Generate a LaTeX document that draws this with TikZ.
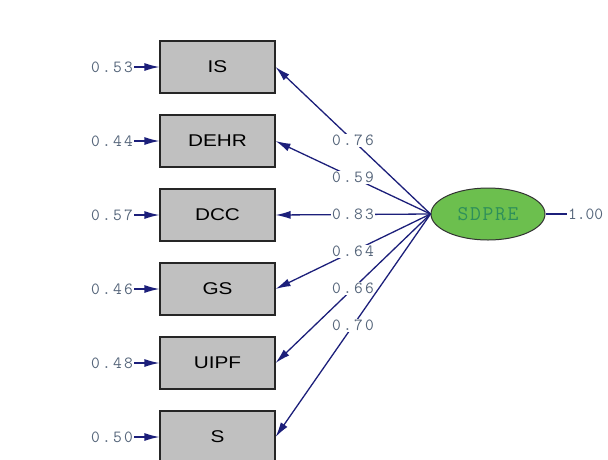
\documentclass[tikz,border=0pt]{standalone}
\usepackage{fontspec}
\setmainfont{Liberation Sans}
\newfontfamily\boxfont[FakeStretch=1.22]{Liberation Sans}
\newfontfamily\numfont[LetterSpace=13]{Latin Modern Mono}
\newfontfamily\latfont[LetterSpace=8]{Latin Modern Mono}
\newfontfamily\varfont{Latin Modern Mono}
\usetikzlibrary{arrows.meta,shapes.geometric}
\definecolor{navy}{HTML}{1C1F7A}
\definecolor{boxgray}{HTML}{C0C0C0}
\definecolor{elgreen}{HTML}{6CBF4E}
\definecolor{eltext}{HTML}{2E8F5A}
\definecolor{numgray}{HTML}{55657A}
\tikzset{
  obs/.style={draw=black!85, line width=1.1pt, fill=boxgray, minimum width=115pt, minimum height=52pt, inner sep=0pt, font=\boxfont\fontsize{17}{17}\selectfont},
  lat/.style={ellipse, draw=black!80, line width=1pt, fill=elgreen, minimum width=114pt, minimum height=52pt, inner sep=0pt, text=eltext, font=\latfont\fontsize{21}{21}\selectfont},
  err/.style={inner sep=1pt, text=numgray, font=\numfont\fontsize{17}{17}\selectfont},
  varlab/.style={inner sep=1pt, text=numgray, font=\varfont\fontsize{17}{17}\selectfont},
  lab/.style={fill=white, inner sep=1pt, text=numgray, font=\numfont\fontsize{17}{17}\selectfont},
  path/.style={draw=navy, line width=1.3pt, -{Latex[length=15pt,width=8pt]}},
  plain/.style={draw=navy, line width=1.3pt}
}
\begin{document}
\begin{tikzpicture}[x=1pt,y=-1pt]
\useasboundingbox (0,0) rectangle (608,459);
\node[obs] (IS) at (217.5,67) {IS};
\node[obs] (DEHR) at (217.5,141) {DEHR};
\node[obs] (DCC) at (217.5,215) {DCC};
\node[obs] (GS) at (217.5,289) {GS};
\node[obs] (UIPF) at (217.5,363) {UIPF};
\node[obs] (S) at (217.5,437) {S};
\node[lat] (SD) at (488,214) {SDPRE};
\node[err, anchor=east] (e1) at (134,67) {0.53};
\node[err, anchor=east] (e2) at (134,141) {0.44};
\node[err, anchor=east] (e3) at (134,215) {0.57};
\node[err, anchor=east] (e4) at (134,289) {0.46};
\node[err, anchor=east] (e5) at (134,363) {0.48};
\node[err, anchor=east] (e6) at (134,437) {0.50};
\node[varlab, anchor=west] (v) at (567,214) {1.00};
\draw[path] (e1) -- (IS);
\draw[path] (e2) -- (DEHR);
\draw[path] (e3) -- (DCC);
\draw[path] (e4) -- (GS);
\draw[path] (e5) -- (UIPF);
\draw[path] (e6) -- (S);
\draw[plain] (SD) -- (v);
\draw[path] (SD.west) -- node[lab]{0.76} (IS.east);
\draw[path] (SD.west) -- node[lab]{0.59} (DEHR.east);
\draw[path] (SD.west) -- node[lab]{0.83} (DCC.east);
\draw[path] (SD.west) -- node[lab]{0.64} (GS.east);
\draw[path] (SD.west) -- node[lab]{0.66} (UIPF.east);
\draw[path] (SD.west) -- node[lab]{0.70} (S.east);
\end{tikzpicture}
\end{document}
